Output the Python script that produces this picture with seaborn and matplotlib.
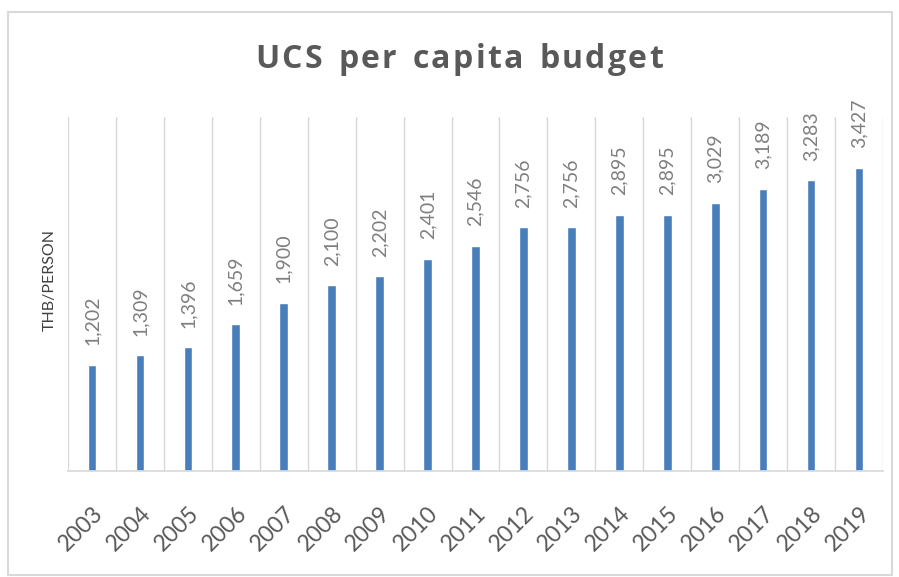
import numpy as np
import pandas as pd
import matplotlib
matplotlib.use("Agg")
import matplotlib.pyplot as plt
import seaborn as sns
from matplotlib.patches import Rectangle

# Data -------------------------------------------------------------------------
years = ["2003", "2004", "2005", "2006", "2007", "2008", "2009", "2010", "2011",
         "2012", "2013", "2014", "2015", "2016", "2017", "2018", "2019"]
budget = [1202, 1309, 1396, 1659, 1900, 2100, 2202, 2401, 2546,
          2756, 2756, 2895, 2895, 3029, 3189, 3283, 3427]

df = pd.DataFrame({"year": years, "budget": budget})

sns.set_theme(style="white")
plt.rcParams["font.family"] = ["Lato", "DejaVu Sans"]

W, H = 899, 577
fig = plt.figure(figsize=(W / 100, H / 100), dpi=100)
ax = fig.add_axes([68 / W, 1 - 471 / H, (883 - 68) / W, (471 - 117) / H])

sns.barplot(data=df, x="year", y="budget", color="#4a7ebb", width=0.18,
            saturation=1, ax=ax)

ax.set_ylim(0, 4000)
ax.set_xlim(-0.5, len(years) - 0.5)
ax.set_yticks([])
ax.set_ylabel("THB/PERSON", fontsize=11.5, color="#404040")
ax.yaxis.set_label_coords(-0.014, 0.54)
ax.set_xlabel("")

# category separators
for x in np.arange(-0.5, len(years), 1.0):
    ax.axvline(x, color="#d9d9d9", lw=1, zorder=0)

for s in ["top", "right", "left"]:
    ax.spines[s].set_visible(False)
ax.spines["bottom"].set_color("#d9d9d9")

ax.tick_params(axis="x", length=0, pad=23)
for lbl in ax.get_xticklabels():
    lbl.set_rotation(45)
    lbl.set_ha("right")
    lbl.set_rotation_mode("anchor")
    lbl.set_fontsize(16.5)
    lbl.set_color("#595959")

# value labels
for i, v in enumerate(budget):
    ax.annotate(f"{v:,}", (i, v), xytext=(0, 14), textcoords="offset points",
                rotation=90, ha="center", va="bottom", fontsize=14,
                color="#7f7f7f")

# title with a bit of letter spacing (matplotlib has no tracking option)
title = "UCS per capita budget"
title_kw = dict(fontsize=23, fontweight="bold", color="#595959",
                family=["Open Sans", "DejaVu Sans"], va="center", ha="left")
renderer = fig.canvas.get_renderer()
spacing = 2.3
widths = []
for ch in title:
    t = fig.text(0, 0, ch if ch != " " else "n", **title_kw)
    w = t.get_window_extent(renderer).width
    widths.append(w * 0.55 if ch == " " else w)
    t.remove()
total = sum(widths) + spacing * (len(title) - 1)
x0 = 459 - total / 2
for ch, w in zip(title, widths):
    if ch != " ":
        fig.text(x0 / W, 1 - 59 / H, ch, **title_kw)
    x0 += w + spacing

fig.patches.append(Rectangle((8 / W, 2 / H), 884 / W, 563 / H,
                             transform=fig.transFigure, fill=False,
                             edgecolor="#d9d9d9", lw=1.5))

fig.savefig("out.png", dpi=100)
